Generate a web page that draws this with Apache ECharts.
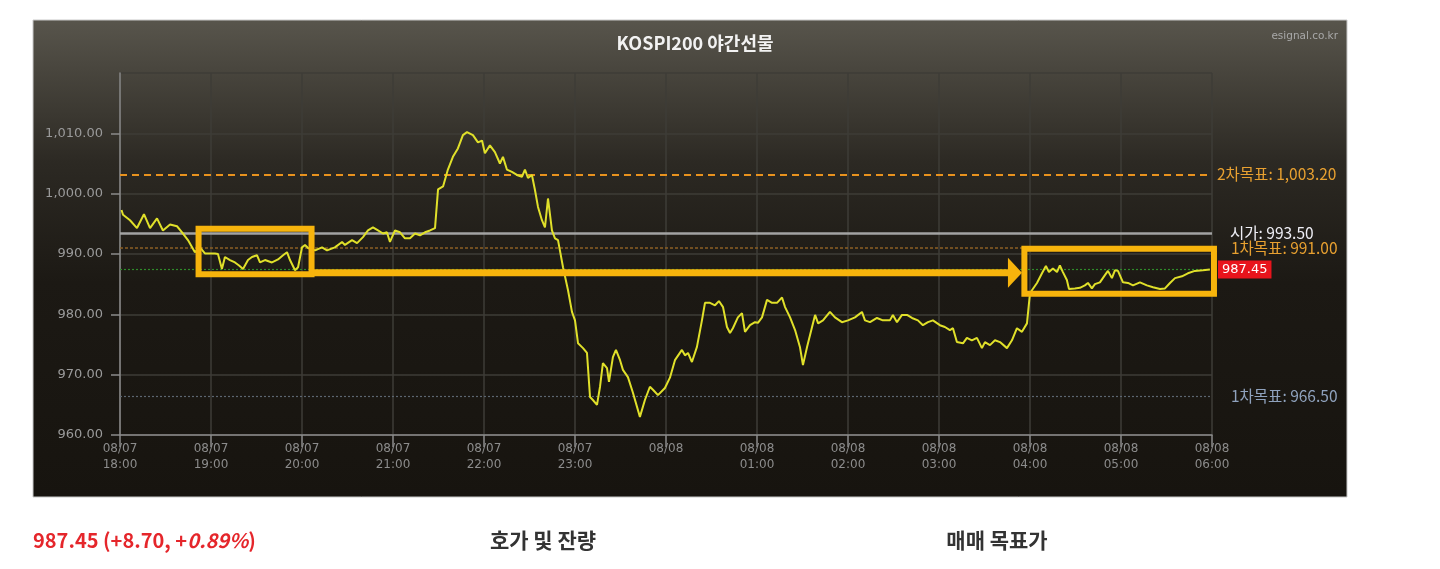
<!DOCTYPE html>
<html>
<head>
<meta charset="utf-8">
<script src="https://cdn.jsdelivr.net/npm/echarts@6/dist/echarts.min.js"></script>
<style>
html,body{margin:0;padding:0;background:#fff;}
#c{width:1440px;height:569px;}
</style>
</head>
<body>
<div id="c"></div>
<script>
// minutes since 08/07 18:00
const times = [1,2,6.6,11.2,15.8,19.8,24.4,28.3,33,37.6,40.9,44.8,49.4,52.7,56,62.6,64.6,67.2,69.2,72.5,75.8,78.5,81.1,84.4,87,90.3,92.3,95.6,100.2,104.2,107.5,110.1,112.1,115.4,117.4,120,122,124,128.6,133.2,136.5,141.7,146.4,148.3,153,156.3,160.2,163.5,166.8,170.1,173.4,176,178,181.3,184.6,187.9,191.2,194.5,197.8,201.1,204.4,207.7,209.7,213,216.2,219.5,222.8,226.1,228.8,232.7,236,238.7,240.6,243.9,247.2,250.5,252.5,255.1,258.4,261.7,265,267,269,271.6,273.6,275.6,278.2,280.2,282.2,284.8,286.8,288.8,292.1,295.4,298,300,302,305.3,307.9,309.9,311.8,314.5,316.5,318.4,321.1,322.4,325,327,329.7,331.6,334.9,338.2,342.8,346.1,349.4,351.4,354.7,359.3,362.6,365.9,370.5,372.5,374.5,377.1,380.4,383.7,385.7,389,392.3,394.9,397.6,400.2,402.2,404.1,407.4,410.1,412.1,415.4,418.7,420.6,423.3,426.6,429.9,433.2,436.5,438.5,441.8,445.1,448.3,450.3,453,456.3,458.3,460.3,463.5,468.1,471.4,476,480,484.6,489.2,491.2,494.5,499.1,503,507.6,509.6,512.3,515.6,518.9,522.2,526.1,529.4,532.7,536,540.6,543.9,547.2,549.2,551.8,555.8,558.4,561.7,565,568.3,570.3,573.6,576.9,580.2,584.8,588.1,591.4,594.7,598,600,601.3,604.6,607.9,610.5,612.5,615.1,617.8,619.7,621.7,624.3,625.7,629.6,632.9,636.2,638.2,640.8,642.8,646.1,649.4,651.4,654,656,658,661.3,664.6,667.9,672.5,677.1,681.1,685.7,689,692.3,695.6,700.2,704.1,708.7,714,718.6];
const prices = [997.3,996.5,995.6,994.3,996.6,994.3,995.9,993.9,994.9,994.6,993.6,992.3,990.3,991.1,990.1,990.1,990.0,987.5,989.5,989.0,988.6,988.1,987.5,989.0,989.5,989.8,988.6,989.0,988.6,989.1,989.8,990.3,989.0,987.3,987.8,991.1,991.5,991.0,990.6,991.1,990.6,991.1,992.0,991.5,992.3,991.8,992.8,993.9,994.4,993.9,993.4,993.6,992.0,993.9,993.6,992.6,992.6,993.4,993.1,993.6,993.9,994.3,1000.7,1001.2,1004.0,1006.1,1007.5,1009.7,1010.2,1009.7,1008.5,1008.8,1006.7,1008.0,1006.9,1005.0,1006.1,1004.0,1003.6,1003.1,1002.8,1004.0,1002.6,1003.1,1000.6,997.8,995.6,994.4,999.2,993.9,992.6,992.3,987.8,984.0,980.4,979.0,975.2,974.4,973.6,966.3,965.8,965.0,968.0,971.9,971.1,968.8,972.9,974.1,972.4,970.8,969.6,967.0,963.0,965.8,968.0,967.5,966.6,967.8,969.5,972.4,974.1,973.2,973.6,972.1,974.6,979.0,981.9,981.9,981.5,982.2,981.2,977.9,976.9,977.7,979.5,980.2,977.1,978.2,978.7,978.6,979.5,982.4,981.9,981.9,982.8,981.2,979.5,977.4,974.6,971.6,974.6,977.9,979.9,978.5,979.0,980.4,979.5,978.7,979.0,979.5,980.4,979.0,978.7,979.4,979.0,979.0,979.9,978.7,979.9,979.9,979.4,979.0,978.2,978.7,979.0,978.2,977.9,977.4,977.7,975.4,975.2,976.1,975.7,976.1,974.4,975.4,974.9,975.7,975.4,974.4,975.7,977.7,977.1,978.5,983.5,984.0,985.2,986.8,988.0,987.0,987.6,987.0,988.1,987.0,985.7,984.2,984.3,984.4,984.8,985.2,984.3,985.0,985.3,986.5,987.2,986.0,987.3,987.2,985.3,985.2,984.8,985.3,984.8,984.5,984.2,984.3,985.2,986.0,986.3,986.8,987.2,987.3,987.45];

const xTickLabels = ['08/07\n18:00','08/07\n19:00','08/07\n20:00','08/07\n21:00','08/07\n22:00','08/07\n23:00','08/08','08/08\n01:00','08/08\n02:00','08/08\n03:00','08/08\n04:00','08/08\n05:00','08/08\n06:00'];

const target2 = 1003.20, openPrice = 993.50, target1Up = 991.00, lastPrice = 987.45, target1Down = 966.50;
const refLabels = ['2차목표: 1,003.20','시가: 993.50','1차목표: 991.00','987.45','1차목표: 966.50'];

// annotation boxes (time min, price) ranges
const box1 = [51.8, 126.3, 986.66, 994.19];
const box2 = [596.3, 721.3, 983.43, 990.88];
const arrowLine = [126.3, 594.7, 986.9];

const summaryParts = ['987.45 (+8.70, +', '0.89%', ')'];
const tabLabels = ['호가 및 잔량', '매매 목표가'];

function fmt(v){
  const s = v.toFixed(2); const parts = s.split('.');
  parts[0] = parts[0].replace(/\B(?=(\d{3})+(?!\d))/g, ',');
  return parts.join('.');
}

const chart = echarts.init(document.getElementById('c'));
const numFont = 'DejaVu Sans';
const krFont = '"Noto Sans CJK KR", "Noto Sans", sans-serif';

chart.setOption({
  backgroundColor: '#ffffff',
  animation: false,
  title: {
    text: 'KOSPI200 야간선물',
    left: 690, top: 29, textAlign: 'center',
    textStyle: {color: '#f2f2f2', fontSize: 18, fontWeight: 'bold', fontFamily: krFont}
  },
  grid: {left: 120, right: 228, top: 73, bottom: 134, containLabel: false},
  xAxis: {
    type: 'value', min: 0, max: 720, interval: 60,
    axisLine: {show: true, lineStyle: {color: '#8a8a8a', width: 1.5}},
    axisTick: {show: true, length: 12, lineStyle: {color: '#8a8a8a', width: 1.5}},
    splitLine: {show: true, lineStyle: {color: '#3e3c37', width: 1.5}},
    axisLabel: {
      color: '#8c8c8c', fontSize: 12, fontFamily: numFont, lineHeight: 16, margin: 6,
      formatter: v => xTickLabels[Math.round(v / 60)] || ''
    }
  },
  yAxis: {
    type: 'value', min: 960, max: 1020, interval: 10,
    axisLine: {show: true, lineStyle: {color: '#8a8a8a', width: 1.5}},
    axisTick: {show: true, length: 9, lineStyle: {color: '#8a8a8a', width: 1.5}},
    splitLine: {show: true, lineStyle: {color: '#3e3c37', width: 1.5}},
    axisLabel: {
      color: '#9a9a9a', fontSize: 13, fontFamily: numFont, margin: 17,
      showMaxLabel: false,
      formatter: v => v >= 1020 ? '' : fmt(v)
    }
  },
  series: [{
    type: 'line',
    data: times.map((t, i) => [t, prices[i]]),
    showSymbol: false,
    lineStyle: {color: '#e0e02a', width: 2},
    z: 5,
    markLine: {
      silent: true, symbol: 'none', animation: false,
      data: [
        {yAxis: target2, lineStyle: {color: '#e8921e', type: [7, 5], width: 2.2},
          label: {show: true, position: 'end', formatter: refLabels[0], color: '#e8a030', fontSize: 15.5, fontFamily: krFont, distance: 5}},
        {yAxis: openPrice, lineStyle: {color: '#a3a3a3', type: 'solid', width: 2.5},
          label: {show: true, position: 'end', formatter: refLabels[1], color: '#eeeef5', fontSize: 15.5, fontFamily: krFont, distance: 18}},
        {yAxis: target1Up, lineStyle: {color: '#8a5f25', type: [3, 2], width: 1.5},
          label: {show: true, position: 'end', formatter: refLabels[2], color: '#e8a030', fontSize: 15.5, fontFamily: krFont, distance: 19}},
        {yAxis: lastPrice, lineStyle: {color: '#2f8a2a', type: [2, 2], width: 1.2},
          label: {show: true, position: 'end', formatter: refLabels[3], color: '#ffffff', fontSize: 13, fontFamily: numFont,
            backgroundColor: '#e8141c', padding: [3, 4, 2, 4], distance: 6}},
        {yAxis: target1Down, lineStyle: {color: '#5c6670', type: [2, 2], width: 1.2},
          label: {show: true, position: 'end', formatter: refLabels[4], color: '#8fa2bd', fontSize: 15.5, fontFamily: krFont, distance: 19}}
      ]
    }
  }]
});

function px(t, v){ return chart.convertToPixel({gridIndex: 0}, [t, v]); }
const amber = '#f7b40c';
const b1a = px(box1[0], box1[3]), b1b = px(box1[1], box1[2]);
const b2a = px(box2[0], box2[3]), b2b = px(box2[1], box2[2]);
const aS = px(arrowLine[0], arrowLine[2]), aE = px(arrowLine[1], arrowLine[2]);

chart.setOption({
  graphic: [
    {type: 'rect', z: -100, silent: true, shape: {x: 33, y: 20, width: 1314, height: 477},
      style: {fill: new echarts.graphic.LinearGradient(0, 0, 0, 1, [
        {offset: 0, color: '#58554c'}, {offset: 0.3, color: '#2c2923'}, {offset: 0.55, color: '#1c1914'}, {offset: 1, color: '#17140f'}]),
        stroke: '#c8c8c8', lineWidth: 1}},
    {type: 'text', z: 10, silent: true, style: {text: 'esignal.co.kr', x: 1338, y: 36, align: 'right', verticalAlign: 'middle',
      fill: '#a8a8a8', fontSize: 10.5, fontFamily: 'DejaVu Sans'}},
    {type: 'polyline', z: 20, silent: true, shape: {points: [[aS[0], aS[1]], [aE[0] - 12, aE[1]]]},
      style: {stroke: amber, lineWidth: 7, fill: null}},
    {type: 'polygon', z: 20, silent: true, shape: {points: [[aE[0] - 14, aE[1] - 15], [aE[0], aE[1]], [aE[0] - 14, aE[1] + 15]]},
      style: {fill: amber}},
    {type: 'rect', z: 20, silent: true, shape: {x: b1a[0], y: b1a[1], width: b1b[0] - b1a[0], height: b1b[1] - b1a[1]},
      style: {fill: 'none', stroke: amber, lineWidth: 6}},
    {type: 'rect', z: 20, silent: true, shape: {x: b2a[0], y: b2a[1], width: b2b[0] - b2a[0], height: b2b[1] - b2a[1]},
      style: {fill: 'none', stroke: amber, lineWidth: 6}},
    {type: 'text', z: 10, silent: true, style: {
      text: '{a|' + summaryParts[0] + '}{b|' + summaryParts[1] + '}{a|' + summaryParts[2] + '}',
      x: 33, y: 540, verticalAlign: 'middle',
      rich: {
        a: {fill: '#e5262b', fontSize: 20, fontWeight: 'bold', fontFamily: krFont},
        b: {fill: '#e5262b', fontSize: 20, fontWeight: 'bold', fontStyle: 'italic', fontFamily: krFont}
      }}},
    {type: 'text', z: 10, silent: true, style: {text: tabLabels[0], x: 543, y: 540, align: 'center', verticalAlign: 'middle',
      fill: '#333333', fontSize: 21, fontWeight: 'bold', fontFamily: krFont}},
    {type: 'text', z: 10, silent: true, style: {text: tabLabels[1], x: 997, y: 540, align: 'center', verticalAlign: 'middle',
      fill: '#333333', fontSize: 21, fontWeight: 'bold', fontFamily: krFont}}
  ]
});
</script>
</body>
</html>
